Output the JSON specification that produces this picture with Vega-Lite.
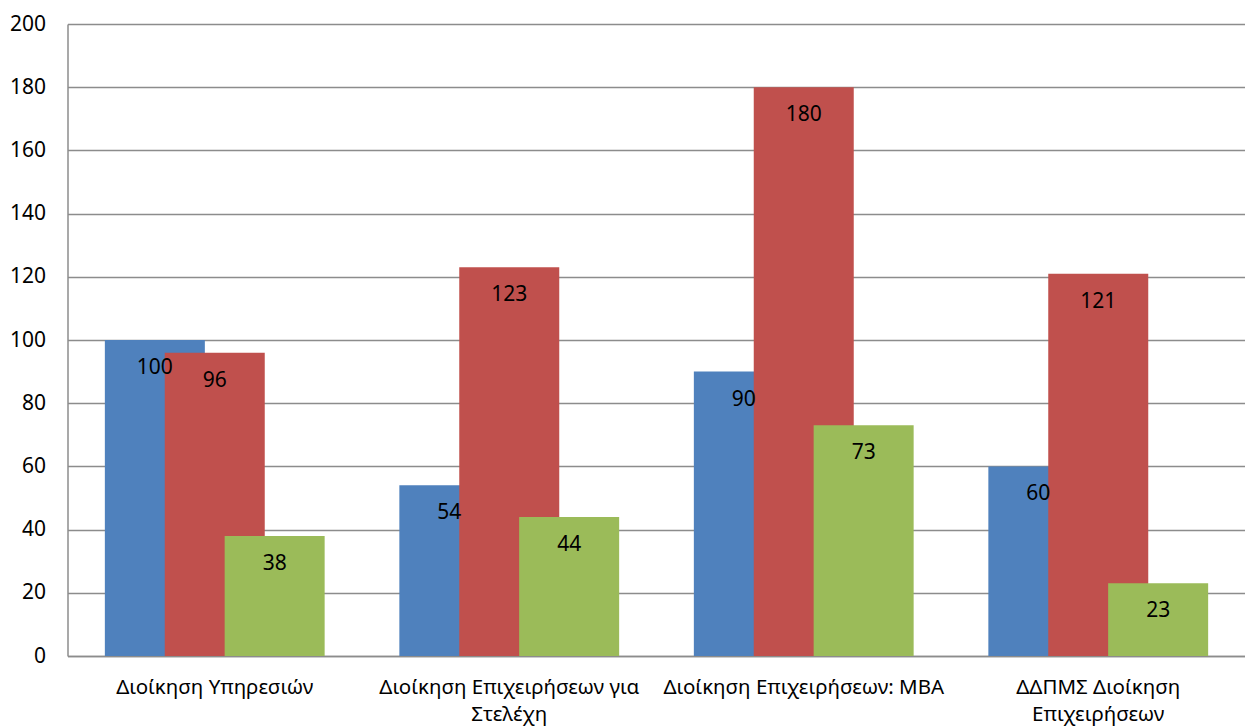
{
  "$schema": "https://vega.github.io/schema/vega-lite/v6.json",
  "width": 1178,
  "height": 632,
  "autosize": {"type": "none"},
  "padding": {"left": 67.5, "top": 24, "right": 0, "bottom": 70},
  "background": "white",
  "config": {
    "font": "Noto Sans",
    "view": {"stroke": null},
    "axis": {"labelFont": "Noto Sans", "labelColor": "#000000"}
  },
  "data": {
    "values": [
      {"program": "Διοίκηση Υπηρεσιών", "series": "Σειρά 1", "value": 100},
      {"program": "Διοίκηση Επιχειρήσεων για Στελέχη", "series": "Σειρά 1", "value": 54},
      {"program": "Διοίκηση Επιχειρήσεων: MBA", "series": "Σειρά 1", "value": 90},
      {"program": "ΔΔΠΜΣ Διοίκηση Επιχειρήσεων", "series": "Σειρά 1", "value": 60},
      {"program": "Διοίκηση Υπηρεσιών", "series": "Σειρά 2", "value": 96},
      {"program": "Διοίκηση Επιχειρήσεων για Στελέχη", "series": "Σειρά 2", "value": 123},
      {"program": "Διοίκηση Επιχειρήσεων: MBA", "series": "Σειρά 2", "value": 180},
      {"program": "ΔΔΠΜΣ Διοίκηση Επιχειρήσεων", "series": "Σειρά 2", "value": 121},
      {"program": "Διοίκηση Υπηρεσιών", "series": "Σειρά 3", "value": 38},
      {"program": "Διοίκηση Επιχειρήσεων για Στελέχη", "series": "Σειρά 3", "value": 44},
      {"program": "Διοίκηση Επιχειρήσεων: MBA", "series": "Σειρά 3", "value": 73},
      {"program": "ΔΔΠΜΣ Διοίκηση Επιχειρήσεων", "series": "Σειρά 3", "value": 23}
    ]
  },
  "encoding": {
    "x": {
      "field": "program",
      "type": "nominal",
      "sort": null,
      "scale": {"paddingInner": 0, "paddingOuter": 0},
      "axis": {
        "title": null,
        "labelAngle": 0,
        "ticks": false,
        "domain": true,
        "domainColor": "#8c8c8c",
        "domainWidth": 1.5,
        "labelFontSize": 20.5,
        "labelLimit": 0,
        "labelPadding": 21,
        "labelLineHeight": 27,
        "labelBaseline": "top",
        "labelExpr": "datum.value == 'Διοίκηση Επιχειρήσεων για Στελέχη' ? ['Διοίκηση Επιχειρήσεων για', 'Στελέχη'] : datum.value == 'ΔΔΠΜΣ Διοίκηση Επιχειρήσεων' ? ['ΔΔΠΜΣ Διοίκηση', 'Επιχειρήσεων'] : datum.value"
      }
    },
    "xOffset": {
      "field": "series",
      "type": "nominal",
      "sort": null,
      "scale": {"paddingInner": 0, "paddingOuter": 0.9583}
    },
    "y": {
      "field": "value",
      "type": "quantitative",
      "scale": {"domain": [0, 200], "nice": false},
      "axis": {
        "title": null,
        "values": [0, 20, 40, 60, 80, 100, 120, 140, 160, 180, 200],
        "ticks": false,
        "domain": true,
        "domainColor": "#8c8c8c",
        "domainWidth": 1.5,
        "gridColor": "#8c8c8c",
        "gridWidth": 1.5,
        "labelFontSize": 21,
        "labelPadding": 22
      }
    }
  },
  "layer": [
    {
      "mark": {"type": "bar", "width": 100},
      "encoding": {
        "color": {
          "field": "series",
          "type": "nominal",
          "sort": null,
          "scale": {"range": ["#4F81BD", "#C0504D", "#9BBB59"]},
          "legend": null
        }
      }
    },
    {
      "mark": {"type": "text", "baseline": "middle", "align": "center", "dy": 28, "fontSize": 21, "color": "#000000"},
      "encoding": {"text": {"field": "value", "type": "quantitative"}}
    }
  ]
}
